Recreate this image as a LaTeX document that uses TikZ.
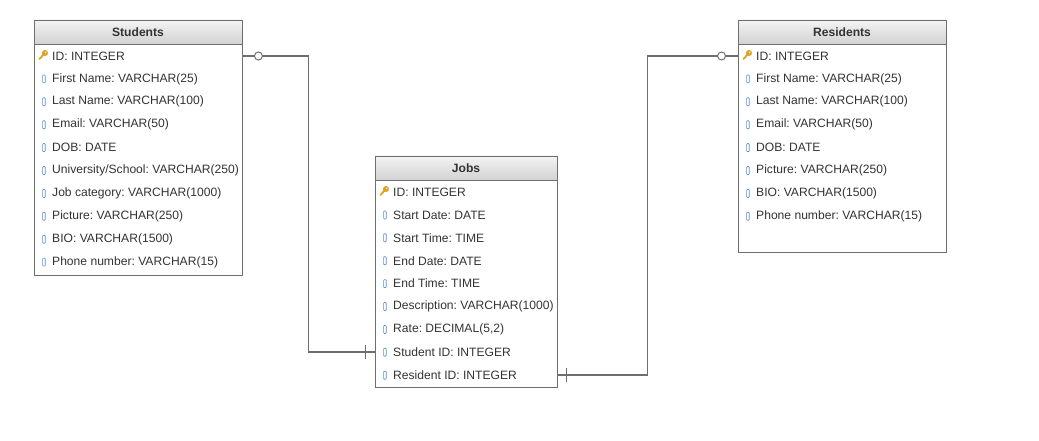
\documentclass[tikz,border=0pt]{standalone}
\usepackage{fontspec}
\setmainfont{Liberation Sans}
\usetikzlibrary{fit,calc}
\definecolor{hdtop}{HTML}{F4F4F4}
\definecolor{hdbot}{HTML}{D2D2D2}
\definecolor{framecol}{HTML}{6E6E6E}
\definecolor{txt}{HTML}{333333}
\definecolor{keycol}{HTML}{E0A020}
\definecolor{colicon}{HTML}{5A8FD6}
\definecolor{conncol}{HTML}{6E6E6E}
\frenchspacing
\tikzset{
  x=1pt, y=-1pt,
  rowtext/.style={anchor=west, inner sep=0pt, text=txt, font=\fontsize{12.1}{14}\selectfont},
  titletext/.style={inner sep=0pt, text=txt, font=\fontsize{12.1}{14}\selectfont\bfseries},
  boxframe/.style={draw=framecol, line width=0.9pt, inner sep=0pt},
  conn/.style={draw=conncol, line width=1.8pt},
  marker/.style={draw=conncol, line width=1pt},
}
% #1 name, #2 xl, #3 xr, #4 ytop, #5 ybottom, #6 title, #7 key field, #8 other fields
\newcommand\ertable[8]{%
  \fill[white] (#2,#4) rectangle (#3,#5);
  \shade[top color=hdtop, bottom color=hdbot] (#2,#4) rectangle (#3,{#4+24});
  \draw[framecol, line width=0.9pt] (#2,{#4+24}) -- (#3,{#4+24});
  \node[boxframe, fit={(#2,#4) (#3,#5)}] (#1) {};
  \node[titletext] (#1-title) at ({(#2+#3)/2},{#4+12}) {\frenchspacing #6};
  % key row
  \fill[keycol] ({#2+11},{#4+33}) circle (3);
  \draw[keycol, line width=1.8pt, line cap=round] ({#2+10},{#4+34}) -- ({#2+5.5},{#4+39});
  \fill[white] ({#2+11.7},{#4+32.3}) circle (0.8);
  \node[rowtext] (#1-1) at ({#2+18},{#4+36}) {\frenchspacing #7};
  \foreach \f [count=\i from 2] in {#8} {
    \pgfmathsetmacro\ry{#4+36+(\i-1)*22.9}
    \draw[colicon, fill=white, line width=0.7pt, rounded corners=0.8pt] ({#2+8.6},{\ry-4}) rectangle ({#2+11.2},{\ry+4});
    \node[rowtext] (#1-\i) at ({#2+18},\ry) {\frenchspacing\f};
  }
}
\begin{document}
\begin{tikzpicture}
\useasboundingbox (0,0) rectangle (1039,441);
\fill[white] (0,0) rectangle (1039,441);

\ertable{students}{34}{242}{20}{275}{Students}{ID: INTEGER}{First Name: VARCHAR(25), Last Name: VARCHAR(100), Email: VARCHAR(50), DOB: DATE, University/School: VARCHAR(250), Job category: VARCHAR(1000), Picture: VARCHAR(250), BIO: VARCHAR(1500), Phone number: VARCHAR(15)}

\ertable{jobs}{375}{557}{156}{387}{Jobs}{ID: INTEGER}{Start Date: DATE, Start Time: TIME, End Date: DATE, End Time: TIME, Description: VARCHAR(1000), {Rate: DECIMAL(5,2)}, Student ID: INTEGER, Resident ID: INTEGER}

\ertable{residents}{738}{946}{20}{252}{Residents}{ID: INTEGER}{First Name: VARCHAR(25), Last Name: VARCHAR(100), Email: VARCHAR(50), DOB: DATE, Picture: VARCHAR(250), BIO: VARCHAR(1500), Phone number: VARCHAR(15)}

% Students -> Jobs
\draw[conn] (students-1 -| students.east) -- ++(66,0) |- (jobs-8 -| jobs.west);
\draw[marker, fill=white] ($(students-1 -| students.east)+(16,0)$) circle (4);
\draw[marker] ($(jobs-8 -| jobs.west)+(-9,-7)$) -- ++(0,14);

% Jobs -> Residents
\draw[conn] (jobs-9 -| jobs.east) -- ++(90,0) |- (residents-1 -| residents.west);
\draw[marker] ($(jobs-9 -| jobs.east)+(9,-7)$) -- ++(0,14);
\draw[marker, fill=white] ($(residents-1 -| residents.west)+(-16,0)$) circle (4);
\end{tikzpicture}
\end{document}
